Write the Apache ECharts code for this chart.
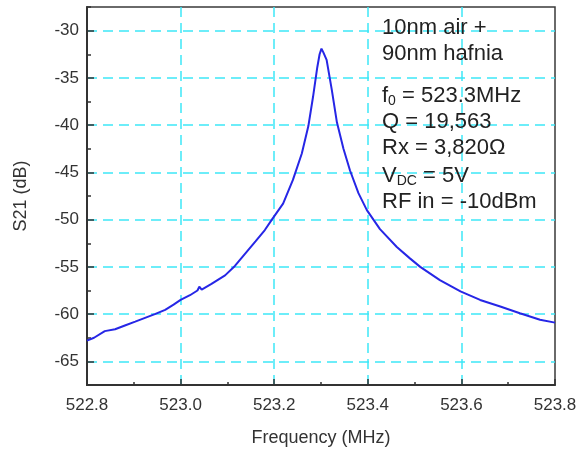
<!DOCTYPE html>
<html>
<head>
<meta charset="utf-8">
<script src="https://cdn.jsdelivr.net/npm/echarts@6/dist/echarts.min.js"></script>
<style>html,body{margin:0;padding:0;background:#fff}#c{width:578px;height:450px}</style>
</head>
<body>
<div id="c"></div>
<script>
// Frequency (MHz) and S21 (dB)
const freq = [522.800, 522.815, 522.838, 522.860, 522.881, 522.903, 522.924, 522.945, 522.967, 522.985,
  523.000, 523.020, 523.036, 523.040, 523.045, 523.066, 523.095, 523.116, 523.138, 523.160, 523.180,
  523.195, 523.219, 523.240, 523.259, 523.273, 523.283, 523.292, 523.297, 523.301, 523.305, 523.312,
  523.323, 523.334, 523.348, 523.362, 523.380, 523.398, 523.426, 523.462, 523.490, 523.512, 523.554,
  523.598, 523.640, 523.683, 523.725, 523.768, 523.800];
const s21 = [-62.8, -62.5, -61.8, -61.6, -61.2, -60.8, -60.4, -60.0, -59.55, -59.0,
  -58.5, -58.0, -57.5, -57.1, -57.4, -56.8, -55.9, -54.9, -53.6, -52.3, -51.1,
  -50.0, -48.3, -45.8, -43.0, -40.1, -37.0, -33.9, -32.5, -31.9, -32.3, -33.1,
  -36.25, -39.7, -42.5, -44.8, -47.2, -49.0, -51.0, -52.9, -54.1, -55.0, -56.4,
  -57.6, -58.5, -59.2, -59.9, -60.6, -60.9];
const yMajorTicks = [-65, -60, -55, -50, -45, -40, -35, -30];
const annotation = ['10nm air +', '90nm hafnia'];

const FONT = 'Liberation Sans, Arial, sans-serif';
const gridColor = '#3ee8f8';
const chart = echarts.init(document.getElementById('c'));
const rich = {
  n: {fontSize: 22, fontFamily: FONT, color: '#222', lineHeight: 24},
  s: {fontSize: 14, fontFamily: FONT, color: '#222', lineHeight: 13, verticalAlign: 'bottom'}
};
function txt(y, text) {
  return {type: 'text', x: 382, y: y, z: 100,
    style: {text: text, rich: rich, verticalAlign: 'middle', fill: '#222', font: '22px ' + FONT}};
}
chart.setOption({
  animation: false,
  grid: {left: 87, right: 23, top: 7, bottom: 65, show: true, borderColor: '#3a3a3a', borderWidth: 1.5,
    outerBoundsMode: 'none', containLabel: false},
  xAxis: {
    type: 'value', min: 522.8, max: 523.8, interval: 0.2,
    name: 'Frequency (MHz)', nameLocation: 'middle', nameGap: 44,
    nameTextStyle: {fontSize: 18, fontFamily: FONT, color: '#333'},
    axisLine: {show: true, lineStyle: {color: '#333', width: 2}},
    axisTick: {show: true, inside: true, length: 6, lineStyle: {color: '#333', width: 1.5}},
    minorTick: {show: true, splitNumber: 2, length: 3, lineStyle: {color: '#333', width: 1.5}},
    axisLabel: {fontSize: 17, fontFamily: FONT, color: '#333', margin: 12, formatter: v => v.toFixed(1)},
    splitLine: {show: true, showMinLine: false, showMaxLine: false,
      lineStyle: {color: gridColor, width: 1.5, type: [10, 6]}}
  },
  yAxis: [{
    type: 'value', min: -67.5, max: -27.5, interval: 2.5, position: 'left',
    axisLine: {show: true, lineStyle: {color: '#333', width: 2}},
    axisTick: {show: true, inside: true, length: 4, lineStyle: {color: '#333', width: 1.5}},
    axisLabel: {show: false},
    splitLine: {show: false}
  }, {
    type: 'value', min: -67.5, max: -27.5, interval: 2.5, position: 'left', offset: 0,
    name: 'S21 (dB)', nameLocation: 'middle', nameGap: 57,
    nameTextStyle: {fontSize: 18, fontFamily: FONT, color: '#333'},
    axisLine: {show: false},
    axisTick: {show: true, inside: true, length: 7, customValues: yMajorTicks, lineStyle: {color: '#333', width: 1.5}},
    axisLabel: {fontSize: 17, fontFamily: FONT, color: '#333', margin: 8, customValues: yMajorTicks},
    splitLine: {show: true, lineStyle: {color: gridColor, width: 1.5, type: [10, 6]}}
  }],
  series: [{
    type: 'line', yAxisIndex: 0, showSymbol: false, symbol: 'none',
    data: freq.map((f, i) => [f, s21[i]]),
    lineStyle: {color: '#2626e6', width: 2}
  }],
  graphic: [
    txt(28, '{n|' + annotation[0] + '}'),
    txt(54, '{n|' + annotation[1] + '}'),
    txt(96, '{n|f}{s|0}{n| = 523.3MHz}'),
    txt(122, '{n|Q = 19,563}'),
    txt(148, '{n|Rx = 3,820Ω}'),
    txt(176, '{n|V}{s|DC}{n| = 5V}'),
    txt(202, '{n|RF in = -10dBm}')
  ]
});
</script>
</body>
</html>
